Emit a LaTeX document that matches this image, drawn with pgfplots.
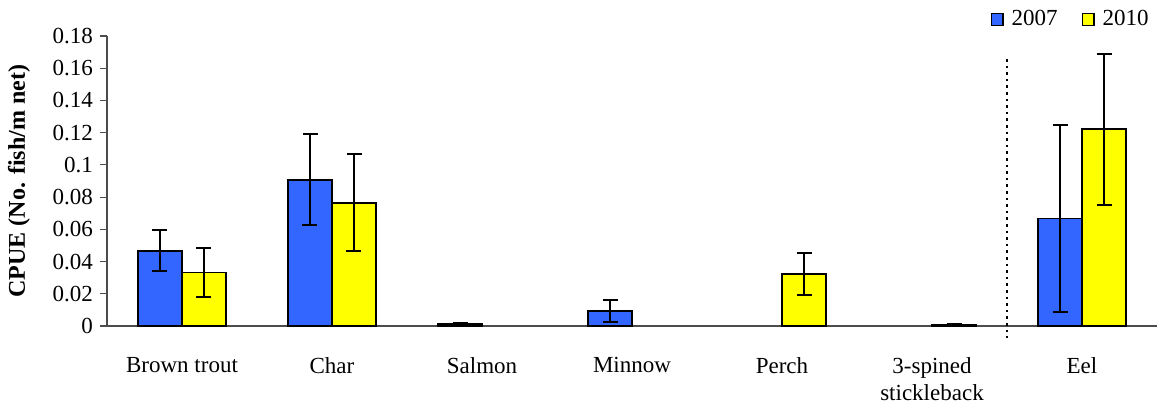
\documentclass[border=0pt]{standalone}
\usepackage{pgfplots}
\pgfplotsset{compat=1.18}
\usepackage{fontspec}
\setmainfont{Liberation Serif}
\definecolor{cblue}{RGB}{51,102,255}
\definecolor{cyellow}{RGB}{255,255,0}
\begin{document}
\begin{tikzpicture}
\begin{axis}[
  at={(0,0)}, anchor=south west,
  scale only axis, width=525pt, height=145pt,
  xmin=-0.5, xmax=6.5, ymin=0, ymax=0.18,
  axis x line*=bottom, axis y line*=left,
  axis line style={-, line width=0.6pt, black!70},
  ybar=0pt, bar width=22pt,
  tick align=outside,
  xtick={0,1,2,3,4,5,6},
  xticklabels={Brown trout, Char, Salmon, Minnow, Perch, {3-spined\\stickleback}, Eel},
  xticklabel style={align=center, font=\fontsize{11.5}{13.8}\selectfont, yshift=-8.5pt},
  x tick style={draw=none},
  extra x ticks={-0.5,0.5,1.5,2.5,3.5,4.5,5.5,6.5},
  extra x tick labels={},
  extra x tick style={major tick length=4pt, tick style={draw=black!70, line width=0.6pt}},
  ytick={0,0.02,...,0.18},
  yticklabels={0,0.02,0.04,0.06,0.08,0.1,0.12,0.14,0.16,0.18},
  yticklabel style={font=\fontsize{11.5}{13.5}\selectfont},
  y tick style={draw=black!70, line width=0.6pt},
  major tick length=3.5pt,
  ylabel={\textbf{CPUE (No. fish/m net)}},
  ylabel style={font=\fontsize{12}{14}\selectfont, at={(rel axis cs:0,0.5)}, anchor=south, yshift=35pt},
  clip=false,
  legend columns=2,
  legend style={at={(rel axis cs:1,1)}, anchor=south east, draw=none, fill=none,
    font=\fontsize{11.5}{13.5}\selectfont, yshift=-0.5pt, xshift=1pt,
    /tikz/every odd column/.append style={column sep=2pt},
    /tikz/every even column/.append style={column sep=10pt}},
  legend image code/.code={\draw[#1, draw=black, line width=0.7pt] (0pt,-2.9pt) rectangle (5.8pt,2.9pt);},
  error bars/y dir=both, error bars/y explicit,
  error bars/error bar style={line width=1pt, black},
  error bars/error mark options={rotate=90, mark size=3.75pt, line width=1pt, black},
]
\addplot[fill=cblue, draw=black, line width=0.8pt] coordinates {
  (0,0.0467) +- (0,0.0126)
  (1,0.0908) +- (0,0.0283)
  (2,0.0012) +- (0,0.0008)
  (3,0.0093) +- (0,0.0067)
  (6,0.0668) +- (0,0.0582)
};
\addplot[fill=cyellow, draw=black, line width=0.8pt] coordinates {
  (0,0.0333) +- (0,0.0150)
  (1,0.0765) +- (0,0.0300)
  (4,0.0323) +- (0,0.0133)
  (5,0.0008) +- (0,0.0002)
  (6,0.1221) +- (0,0.0467)
};
\legend{2007,2010}
\draw[black, line width=1.3pt, dotted] (axis cs:5.5,0.1657) -- ([yshift=-6pt]axis cs:5.5,0);
\end{axis}
\pgfresetboundingbox
\path (-53.5pt,-38.5pt) rectangle (525pt,163pt);
\end{tikzpicture}
\end{document}
